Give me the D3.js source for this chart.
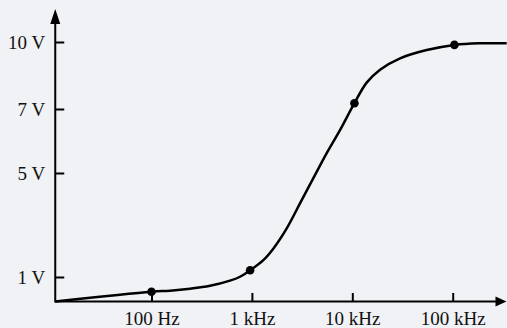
<!DOCTYPE html>
<html>
<head>
<meta charset="utf-8">
<script src="https://cdn.jsdelivr.net/npm/d3@7"></script>
<style>
  html, body { margin: 0; padding: 0; background: #f1f2f5; }
  svg { display: block; }
</style>
</head>
<body>
<svg id="chart" width="507" height="328"></svg>
<script>
// ---- data ----
const curveFreq = [11, 100, 153, 242, 383, 605, 761, 960, 1300, 1640, 2223, 3013, 4093, 5560, 7540, 10500, 13900, 18900, 29900, 55100, 104000, 187000, 345000];
const curveVolt = [0, 0.40, 0.44, 0.52, 0.64, 0.85, 1.01, 1.26, 1.65, 2.10, 2.87, 3.83, 4.80, 5.62, 6.34, 7.26, 8.18, 8.76, 9.27, 9.64, 9.87, 9.94, 9.94];
const markerFreq = [100, 960, 10500, 104000];
const markerVolt = [0.40, 1.26, 7.26, 9.87];
const xTickValues = [100, 1000, 10000, 100000];
const xTickLabels = ["100 Hz", "1 kHz", "10 kHz", "100 kHz"];
const yTickValues = [1, 5, 7, 10];
const yTickLabels = ["1 V", "5 V", "7 V", "10 V"];
const yBreaks = [0, 1, 5, 7, 10];

// ---- layout ----
const svg = d3.select("#chart");
const FONT = "'Liberation Serif', 'Times New Roman', serif";
const x = d3.scaleLog().domain([100, 100000]).range([151.5, 452.7]);
const y = d3.scaleLinear().domain(yBreaks).range([301.5, 277, 173, 109, 42]);
const x0 = x(11), y0 = y(0);
const xEnd = 506.5, yTop = 9;

// axes lines with arrows
svg.append("line").attr("x1", x0).attr("x2", xEnd - 9).attr("y1", y0).attr("y2", y0)
  .attr("stroke", "#000").attr("stroke-width", 2);
svg.append("path").attr("d", `M${xEnd},${y0} L${xEnd - 11},${y0 - 5} L${xEnd - 11},${y0 + 5} Z`).attr("fill", "#000");
svg.append("line").attr("x1", x0).attr("x2", x0).attr("y1", y0 + 1).attr("y2", yTop + 9)
  .attr("stroke", "#000").attr("stroke-width", 2);
svg.append("path").attr("d", `M${x0},${yTop} L${x0 - 5},${yTop + 15} L${x0 + 5},${yTop + 15} Z`).attr("fill", "#000");

// x axis
const xAxis = d3.axisBottom(x).tickValues(xTickValues)
  .tickFormat((d, i) => xTickLabels[i]).tickSizeInner(-8.5).tickSizeOuter(0).tickPadding(10);
const gx = svg.append("g").attr("transform", `translate(0,${y0})`).call(xAxis);
gx.select(".domain").remove();
gx.attr("font-family", FONT).attr("font-size", 19);
gx.selectAll(".tick line").attr("stroke", "#000").attr("stroke-width", 2);
gx.selectAll(".tick text").attr("fill", "#111");

// y axis
const yAxis = d3.axisLeft(y).tickValues(yTickValues)
  .tickFormat((d, i) => yTickLabels[i]).tickSizeInner(-9).tickSizeOuter(0).tickPadding(10);
const gy = svg.append("g").attr("transform", `translate(${x0},0)`).call(yAxis);
gy.select(".domain").remove();
gy.attr("font-family", FONT).attr("font-size", 19);
gy.selectAll(".tick line").attr("stroke", "#000").attr("stroke-width", 2);
gy.selectAll(".tick text").attr("fill", "#111");

// curve
const pts = curveFreq.map((f, i) => [f, curveVolt[i]]);
const line = d3.line().x(d => x(d[0])).y(d => y(d[1])).curve(d3.curveCatmullRom.alpha(0.5));
svg.append("path").datum(pts).attr("d", line)
  .attr("fill", "none").attr("stroke", "#000").attr("stroke-width", 2.5);

// markers
svg.selectAll("circle.m").data(markerFreq).enter().append("circle")
  .attr("class", "m")
  .attr("cx", d => x(d)).attr("cy", (d, i) => y(markerVolt[i])).attr("r", 4.3)
  .attr("fill", "#000");
</script>
</body>
</html>
